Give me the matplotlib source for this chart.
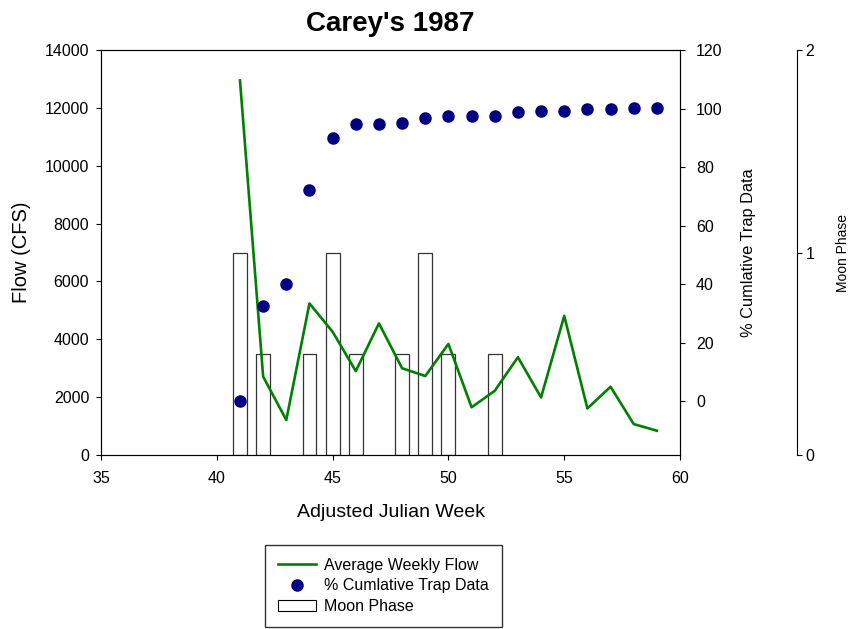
import matplotlib
matplotlib.use("Agg")
import matplotlib.pyplot as plt
from matplotlib.patches import Patch
from matplotlib.lines import Line2D

plt.rcParams['font.family'] = ['Liberation Sans', 'DejaVu Sans']

# weekly data
weeks = [41, 42, 43, 44, 45, 46, 47, 48, 49, 50, 51, 52, 53, 54, 55, 56, 57, 58, 59]
flow = [12950, 2710, 1210, 5240, 4260, 2900, 4550, 3000, 2730, 3840,
        1650, 2220, 3380, 1990, 4810, 1610, 2360, 1070, 840]
cum_trap = [0, 32.6, 40, 72.2, 90, 94.8, 94.9, 95.1, 96.7, 97.4,
            97.5, 97.6, 98.9, 99.3, 99.3, 99.8, 100, 100.2, 100.3]

# moon phase
moon_weeks = [41, 42, 44, 45, 46, 48, 49, 50, 52]
moon_phase = [1, 0.5, 0.5, 1, 0.5, 0.5, 1, 0.5, 0.5]

fig = plt.figure(figsize=(8.51, 6.29), dpi=100)
ax = fig.add_axes([0.1187, 0.2766, 0.6804, 0.6439])
ax2 = ax.twinx()
ax3 = ax.twinx()

# draw order: moon bars behind, then flow, then dots
ax3.set_zorder(0)
ax.set_zorder(1)
ax2.set_zorder(2)
ax.patch.set_visible(False)
ax2.patch.set_visible(False)

ax3.bar(moon_weeks, moon_phase, width=0.6, facecolor='none',
        edgecolor='#333333', linewidth=0.9)
ax3.set_ylim(0, 2)
ax3.set_yticks([0, 1, 2])
ax3.spines['right'].set_position(('axes', 1.202))
for s in ['left', 'top', 'bottom']:
    ax3.spines[s].set_visible(False)
ax3.set_ylabel('Moon Phase', fontsize=10, va='center')
ax3.yaxis.set_label_coords(1.282, 0.5)

ax.plot(weeks, flow, color='#008000', linewidth=1.9)
ax.set_xlim(35, 60)
ax.set_ylim(0, 14000)
ax.set_xticks([35, 40, 45, 50, 55, 60])
ax.set_yticks(range(0, 14001, 2000))
ax.set_xlabel('Adjusted Julian Week', fontsize=14, va='center')
ax.xaxis.set_label_coords(0.5, -0.143)
ax.set_ylabel('Flow (CFS)', fontsize=14.5, va='center')
ax.yaxis.set_label_coords(-0.138, 0.5)

ax2.plot(weeks, cum_trap, 'o', color='#000080', markersize=8)
ax2.set_ylim(-18.3, 120)
ax2.set_yticks(range(0, 121, 20))
ax2.set_ylabel('% Cumlative Trap Data', fontsize=11.8, va='center')
ax2.yaxis.set_label_coords(1.118, 0.5)

for a in (ax, ax2, ax3):
    a.tick_params(direction='out', length=3.5, width=0.8, labelsize=11.5)
    for s in a.spines.values():
        s.set_linewidth(0.8)
ax.tick_params(axis='y', pad=5)
ax.tick_params(axis='x', pad=8)
ax2.tick_params(axis='y', pad=8)
ax3.tick_params(axis='y', pad=2.5)

ax.set_title("Carey's 1987", fontsize=20, fontweight='bold', pad=14)

handles = [Line2D([], [], color='#008000', linewidth=1.9),
           Line2D([], [], marker='o', linestyle='none', color='#000080', markersize=8),
           Patch(facecolor='white', edgecolor='black', linewidth=0.8)]
labels = ['Average Weekly Flow', '% Cumlative Trap Data', 'Moon Phase']
fig.legend(handles, labels, loc='upper left', bbox_to_anchor=(0.3114, 0.1335),
           fontsize=11.5, frameon=True, fancybox=False, edgecolor='black',
           handlelength=2.4, handletextpad=0.5, labelspacing=0.35,
           borderpad=0.8, borderaxespad=0)

fig.savefig('out.png', dpi=100)
